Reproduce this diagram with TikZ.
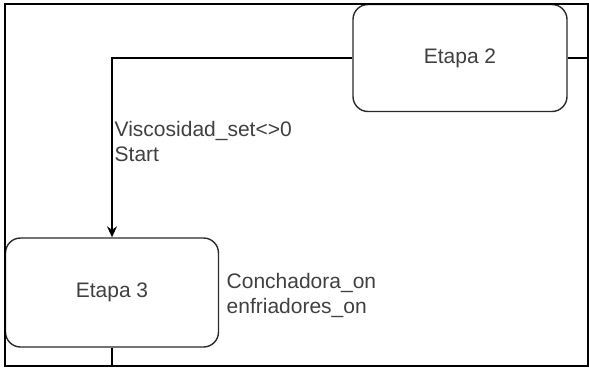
\documentclass[tikz,border=0pt]{standalone}
\usepackage{fontspec}
\setmainfont{Liberation Sans}
\usetikzlibrary{arrows.meta}
\definecolor{txt}{HTML}{404040}
\definecolor{boxc}{HTML}{2A2A2A}
\begin{document}
\begin{tikzpicture}[x=1pt,y=-1pt,
  stepbox/.style={draw=boxc,line width=1.4pt,rounded corners=15pt,minimum width=214pt,minimum height=107pt,inner sep=0pt,font=\fontsize{21}{25}\selectfont,text=txt,fill=white},
  conn/.style={draw=black,line width=1.4pt},
  lbl/.style={font=\fontsize{21}{25}\selectfont,text=txt,align=left,anchor=west,inner sep=0pt}]
\useasboundingbox (0,0) rectangle (589,367);
\node[stepbox] (e2) at (460,58) {Etapa 2};
\node[stepbox,minimum width=213pt,minimum height=109pt] (e3) at (112,292.5) {Etapa 3};
\coordinate (rend) at (589,58);
\coordinate (bend) at (112,366);
\draw[conn,-{Stealth[length=11pt,width=10pt]}] (e2.west) -| (e3.north);
\draw[conn] (e2.east) -- (rend);
\draw[conn] (e3.south) -- (bend);
\node[lbl] (l1) at (114.5,141.5) {Viscosidad\_set<>0\\Start};
\node[lbl] (l2) at (226.5,295) {Conchadora\_on\\enfriadores\_on};
\draw[black,line width=2pt] (4.5,3.5) rectangle (588,366);
\end{tikzpicture}
\end{document}
